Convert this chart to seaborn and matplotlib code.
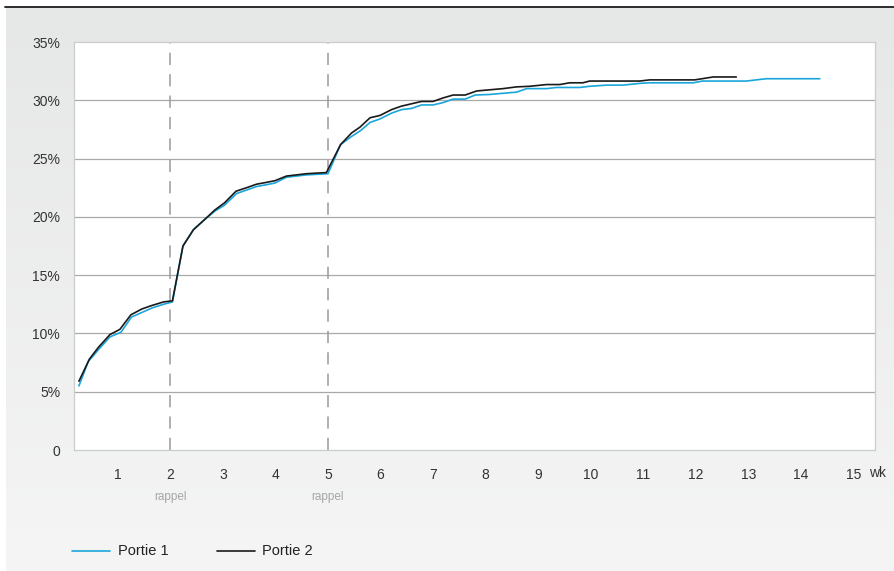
import numpy as np
import pandas as pd
import matplotlib
matplotlib.use("Agg")
import matplotlib.pyplot as plt
import seaborn as sns

# weeks / cumulative percentage
portie1_wk = [0.26, 0.44, 0.65, 0.85, 1.06, 1.26, 1.46, 1.66, 1.87, 2.04,
              2.24, 2.44, 2.66, 2.85, 3.03, 3.26, 3.45, 3.64, 3.82, 3.99,
              4.21, 4.59, 5.00, 5.24, 5.45, 5.62, 5.80, 5.99, 6.21, 6.40,
              6.59, 6.78, 7.00, 7.19, 7.38, 7.61, 7.80, 8.08, 8.33, 8.59,
              8.78, 9.16, 9.35, 9.79, 9.98, 10.30, 10.62, 10.93, 11.12, 11.95,
              12.13, 12.96, 13.34, 14.36]
portie1_pct = [5.5, 7.6, 8.7, 9.7, 10.1, 11.4, 11.8, 12.2, 12.5, 12.7,
               17.5, 18.9, 19.8, 20.5, 21.0, 22.0, 22.3, 22.6, 22.75, 22.9,
               23.4, 23.6, 23.7, 26.2, 26.9, 27.4, 28.1, 28.4, 28.9, 29.2,
               29.3, 29.6, 29.6, 29.8, 30.1, 30.1, 30.45, 30.5, 30.6, 30.7,
               31.0, 31.0, 31.1, 31.1, 31.2, 31.3, 31.3, 31.45, 31.5, 31.5,
               31.65, 31.65, 31.85, 31.85]

portie2_wk = [0.26, 0.46, 0.63, 0.85, 1.04, 1.25, 1.46, 1.65, 1.87, 2.04,
              2.24, 2.44, 2.66, 2.85, 3.03, 3.25, 3.45, 3.64, 3.82, 3.99,
              4.21, 4.59, 4.97, 5.24, 5.45, 5.61, 5.80, 5.99, 6.21, 6.40,
              6.59, 6.78, 7.00, 7.19, 7.38, 7.61, 7.83, 8.08, 8.33, 8.59,
              8.84, 9.16, 9.41, 9.60, 9.85, 9.98, 10.93, 11.12, 11.98, 12.33,
              12.77]
portie2_pct = [5.9, 7.8, 8.8, 9.9, 10.35, 11.6, 12.1, 12.4, 12.7, 12.8,
               17.5, 18.9, 19.8, 20.6, 21.2, 22.2, 22.5, 22.8, 22.95, 23.1,
               23.5, 23.7, 23.8, 26.2, 27.2, 27.7, 28.5, 28.7, 29.2, 29.5,
               29.7, 29.9, 29.9, 30.2, 30.45, 30.45, 30.8, 30.9, 31.0, 31.15,
               31.2, 31.35, 31.35, 31.5, 31.5, 31.65, 31.65, 31.75, 31.75, 32.0,
               32.0]

week_labels = [str(w) for w in range(1, 16)]
y_ticks = [0, 5, 10, 15, 20, 25, 30, 35]
y_labels = ["0", "5%", "10%", "15%", "20%", "25%", "30%", "35%"]
rappel_weeks = [2, 5]

df = pd.concat([
    pd.DataFrame({"week": portie1_wk, "pct": portie1_pct, "serie": "Portie 1"}),
    pd.DataFrame({"week": portie2_wk, "pct": portie2_pct, "serie": "Portie 2"}),
])

sns.set_style("white")
plt.rcParams["font.family"] = ["Liberation Sans", "DejaVu Sans"]

fig = plt.figure(figsize=(8.95, 5.71), dpi=100)

# gray panel with gradient + black rule at top
bg = fig.add_axes([6 / 895, 0, 1 - 6 / 895, 1 - 8 / 571])
grad = np.linspace(0, 1, 256).reshape(-1, 1)
bg.imshow(grad, aspect="auto", cmap=matplotlib.colors.LinearSegmentedColormap.from_list(
    "g", ["#e6e7e7", "#f5f5f5"]), extent=[0, 1, 0, 1])
bg.set_axis_off()
fig.add_artist(plt.Line2D([5 / 895, 1], [1 - 7 / 571, 1 - 7 / 571],
                          color="#1a1a1a", lw=1.3))

ax = fig.add_axes([74 / 895, 1 - 450 / 571, 801 / 895, 408 / 571])
ax.set_facecolor("white")

for y in y_ticks[1:-1]:
    ax.axhline(y, color="#a9a9a9", lw=0.9, zorder=1)
for w in rappel_weeks:
    ax.axvline(w, color="#9a9a9a", lw=1.1, ls=(0, (8, 6)), zorder=1)

sns.lineplot(data=df, x="week", y="pct", hue="serie",
             palette={"Portie 1": "#1aa6da", "Portie 2": "#1a1a1a"},
             lw=1.2, ax=ax, legend=False, zorder=3, estimator=None, sort=False)

ax.set_xlim(1 / 6, 15.41)
ax.set_ylim(0, 35)
ax.set_xlabel("")
ax.set_ylabel("")

for s in ax.spines.values():
    s.set_color("#cccccc")
    s.set_linewidth(0.9)

ax.set_yticks(y_ticks)
ax.set_yticklabels(y_labels, fontsize=10, color="#333333")
ax.tick_params(axis="y", length=0, pad=10)

ax.set_xticks(range(1, 16))
ax.set_xticklabels(week_labels, fontsize=10, color="#333333")
ax.set_xticks(np.arange(1, 93) / 6, minor=True)
ax.tick_params(axis="x", which="major", length=0, pad=13)
ax.tick_params(axis="x", which="minor", length=3.5, width=0.8, color="#aaaaaa",
               direction="out")

ax.text(15.3, -2.0, "wk", fontsize=10, color="#333333", ha="left", va="center")
for w in rappel_weeks:
    ax.text(w, -4.0, "rappel", fontsize=8.5, color="#a6a6a6", ha="center",
            va="center")

# legend drawn at the bottom
leg_y = 1 - 551 / 571
fig.add_artist(plt.Line2D([72 / 895, 110 / 895], [leg_y, leg_y], color="#1aa6da", lw=1.2))
fig.text(118 / 895, leg_y, "Portie 1", fontsize=10.5, color="#222222", va="center")
fig.add_artist(plt.Line2D([217 / 895, 255 / 895], [leg_y, leg_y], color="#1a1a1a", lw=1.2))
fig.text(262 / 895, leg_y, "Portie 2", fontsize=10.5, color="#222222", va="center")

fig.savefig("out.png", dpi=100, facecolor="white")
